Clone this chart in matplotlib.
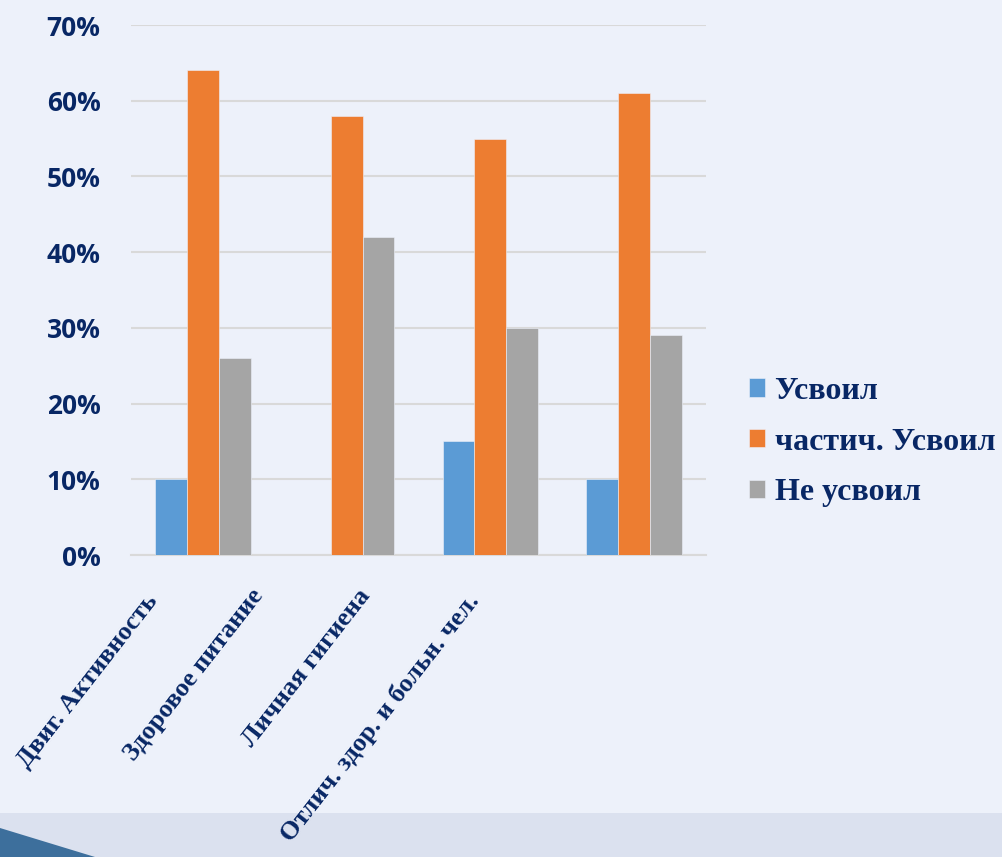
import matplotlib
matplotlib.use("Agg")
import matplotlib.pyplot as plt
import numpy as np
from matplotlib.patches import Rectangle, Polygon

categories = ["Двиг. Активность", "Здоровое питание", "Личная гигиена", "Отлич. здор. и больн. чел."]
series_names = ["Усвоил", "частич. Усвоил", "Не усвоил"]
usvoil = [10, 0, 15, 10]
chastich = [64, 58, 55, 61]
ne_usvoil = [26, 42, 30, 29]
yticks = [0, 10, 20, 30, 40, 50, 60, 70]

colors = ["#5b9bd5", "#ed7d31", "#a5a5a5"]
navy = "#082765"
bg = "#edf1fa"

fig = plt.figure(figsize=(10.02, 8.57), dpi=100)
fig.patch.set_facecolor(bg)

# bottom band
fig.patches.append(Rectangle((0, 0), 1, 1 - 813 / 857, transform=fig.transFigure,
                             facecolor="#dbe1ef", edgecolor="none", zorder=0))
fig.patches.append(Polygon([(0, 1 - 828 / 857), (95 / 1002, 0), (0, 0)], closed=True,
                           transform=fig.transFigure, facecolor="#3d6f9c", edgecolor="none", zorder=0))

ax = fig.add_axes([131 / 1002, 1 - 555 / 857, 575 / 1002, 530 / 857])
ax.set_facecolor("none")

x = np.arange(len(categories))
w = 0.222
for i, (vals, name) in enumerate(zip([usvoil, chastich, ne_usvoil], series_names)):
    ax.bar(x + (i - 1) * w, vals, width=w, color=colors[i], label=name, zorder=3,
           edgecolor=bg, linewidth=0.4)

ax.set_xlim(-0.5, 3.5)
ax.set_ylim(0, 70)
ax.set_yticks(yticks)
ax.set_yticklabels([f"{v}%" for v in yticks], fontsize=19, fontweight="bold",
                   color=navy, family="Open Sans")
ax.yaxis.grid(True, color="#d9d9d9", linewidth=1.5, zorder=0)
ax.tick_params(axis="y", length=0, pad=22)
ax.tick_params(axis="x", length=0)
ax.set_xticks([])
for s in ["top", "right", "left"]:
    ax.spines[s].set_visible(False)
ax.spines["bottom"].set_color("#d9d9d9")
ax.spines["bottom"].set_linewidth(1.5)

# category labels (rotated)
label_anchor = [(144, 590), (250, 585), (357, 585), (465, 590)]
for (px, py), lab in zip(label_anchor, categories):
    fig.text(px / 1002, 1 - py / 857, lab, rotation=52, rotation_mode="anchor",
             ha="right", va="top", fontsize=19, fontweight="bold", color=navy,
             family="Liberation Serif")

leg = fig.legend(loc="center left", bbox_to_anchor=(749 / 1002, 1 - 442 / 857),
                 frameon=False, prop={"family": "Liberation Serif", "weight": "bold", "size": 23},
                 handlelength=0.5, handleheight=0.5, handletextpad=0.3, labelspacing=0.68,
                 borderpad=0, borderaxespad=0)
for t in leg.get_texts():
    t.set_color(navy)

fig.savefig("out.png", dpi=100, facecolor=fig.get_facecolor())
